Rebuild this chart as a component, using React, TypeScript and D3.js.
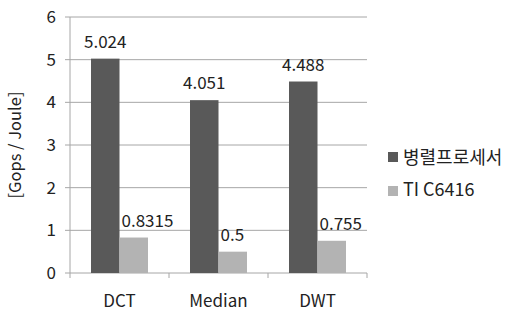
import React from "react";
import * as d3 from "d3";

const categories = ["DCT", "Median", "DWT"];
const seriesNames = ["병렬프로세서", "TI C6416"];
const parallelValues = [5.024, 4.051, 4.488];
const tiValues = [0.8315, 0.5, 0.755];
const valueLabels = [["5.024", "4.051", "4.488"], ["0.8315", "0.5", "0.755"]];
const yTicks = [0, 1, 2, 3, 4, 5, 6];
const colors = ["#595959", "#b3b3b3"];

const W = 515, H = 325;
const FONT = "'Noto Sans CJK KR', 'Noto Sans', sans-serif";

export default function App() {
  const left = 70, right = 367, top = 17, bottom = 273;
  const x = d3.scaleBand<string>().domain(categories).range([left, right]).paddingInner(0).paddingOuter(0);
  const y = d3.scaleLinear().domain([0, 6]).range([bottom, top]);
  const series = [parallelValues, tiValues];
  const pad = 21;
  const barW = (x.bandwidth() - 2 * pad) / 2;

  return (
    <svg width={W} height={H} style={{ position: "absolute", left: 0, top: 0, background: "#fff" }} fontFamily={FONT}>
      {yTicks.map((t) => (
        <g key={t}>
          <line x1={left - 5} x2={right} y1={y(t)} y2={y(t)} stroke="#a6a6a6" strokeWidth={1} />
          <text x={left - 14} y={y(t)} dy="0.35em" textAnchor="end" fontSize={17} fill="#222">{t}</text>
        </g>
      ))}
      <line x1={left} x2={left} y1={top} y2={bottom} stroke="#a6a6a6" />
      {categories.concat(["_end"]).map((c, i) => {
        const xx = left + i * x.bandwidth();
        return <line key={c} x1={xx} x2={xx} y1={bottom} y2={bottom + 5} stroke="#a6a6a6" />;
      })}
      {categories.map((c) => (
        <text key={c} x={(x(c) as number) + x.bandwidth() / 2} y={307} textAnchor="middle" fontSize={17} fill="#222">{c}</text>
      ))}
      {series.map((vals, si) =>
        vals.map((v, ci) => {
          const bx = (x(categories[ci]) as number) + pad + si * barW;
          return (
            <g key={si + "-" + ci}>
              <rect x={bx} y={y(v)} width={barW} height={bottom - y(v)} fill={colors[si]} />
              <text
                x={si === 0 ? bx + barW / 2 : bx + 2}
                y={y(v) - 11}
                textAnchor={si === 0 ? "middle" : "start"}
                fontSize={17}
                fill="#222"
              >{valueLabels[si][ci]}</text>
            </g>
          );
        })
      )}
      <text transform={`translate(15,${(top + bottom) / 2}) rotate(-90)`} textAnchor="middle" dy="0.35em" fontSize={16.5} fill="#222">[Gops / Joule]</text>
      {seriesNames.map((n, i) => (
        <g key={n}>
          <rect x={388} y={152 + i * 34} width={10} height={10} fill={colors[i]} />
          <text x={403} y={158 + i * 32} dy="0.35em" fontSize={18} fill="#222">{n}</text>
        </g>
      ))}
    </svg>
  );
}
